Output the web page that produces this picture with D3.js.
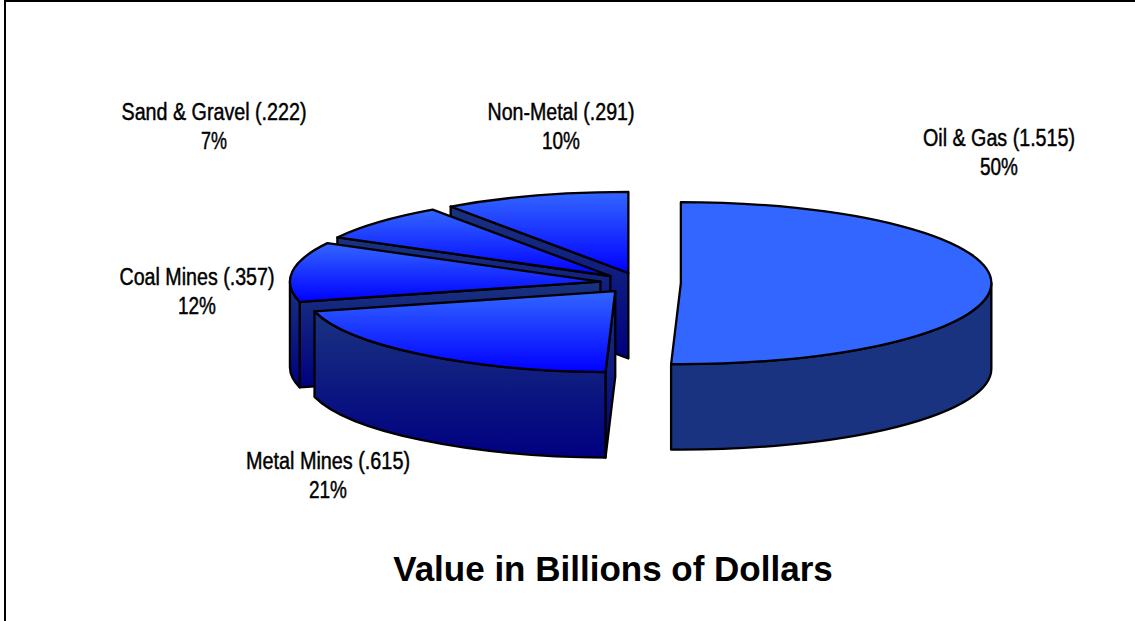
<!DOCTYPE html>
<html>
<head>
<meta charset="utf-8">
<script src="https://cdn.jsdelivr.net/npm/d3@7"></script>
<style>
html, body { margin: 0; padding: 0; background: #fff; }
svg { display: block; }
</style>
</head>
<body>
<script>
// chart data
const categories = ["Oil & Gas", "Metal Mines", "Coal Mines", "Sand & Gravel", "Non-Metal"];
const values = [1.515, 0.615, 0.357, 0.222, 0.291];
const percents = [50, 21, 12, 7, 10];
const title = "Value in Billions of Dollars";

// layout
const width = 1135, height = 621;
const cx = 640.5, cy = 283;
const rx = 310.5, ry = 81, depth = 85.5;
const explode = 0.13;
const labelAnchors = [[999, 146], [328, 469], [197, 285], [214, 120], [561, 120]];
const labelWidth = [152, 164, 155, 185, 147];

const svg = d3.select("body").append("svg")
  .attr("width", width)
  .attr("height", height);

function gradient(id, top, bottom) {
  const g = defs.append("linearGradient").attr("id", id)
    .attr("x1", 0).attr("y1", 0).attr("x2", 0).attr("y2", 1);
  g.append("stop").attr("offset", "0%").attr("stop-color", top);
  g.append("stop").attr("offset", "100%").attr("stop-color", bottom);
}
const defs = svg.append("defs");
gradient("topFace", "#3366ff", "#0000ff");
gradient("sideFace", "#1a3380", "#000080");

// frame, only top and left edges show in the picture
svg.append("path")
  .attr("d", "M5,621V1H1135")
  .attr("fill", "none")
  .attr("stroke", "#000")
  .attr("stroke-width", 2);

const arcs = d3.pie().sort(null).value(d => d)(values);
const arcGen = d3.arc().innerRadius(0).outerRadius(rx);

// point on the rim of a slice whose apex is c, dz lower down
function rim(c, a, dz) {
  return [c[0] + rx * Math.sin(a), c[1] - ry * Math.cos(a) + dz];
}

// back to front
const order = [4, 3, 2, 1, 0];
order.forEach(function(i) {
  const d = arcs[i];
  const mid = (d.startAngle + d.endAngle) / 2;
  const c = [cx + explode * rx * Math.sin(mid), cy - explode * ry * Math.cos(mid)];
  const g = svg.append("g");
  const flat = i === 0;
  const sideFill = flat ? "#1a3380" : "url(#sideFace)";
  const topFill = flat ? "#3366ff" : "url(#topFace)";

  // radial wall on the start edge, faces the viewer on the left half
  if (d.startAngle > Math.PI) {
    const p = rim(c, d.startAngle, 0);
    g.append("path")
      .attr("d", "M" + c + "L" + p + "v" + depth + "L" + c[0] + "," + (c[1] + depth) + "Z")
      .attr("fill", sideFill)
      .attr("stroke", "#000")
      .attr("stroke-width", 2.3)
      .attr("stroke-linejoin", "round");
  }

  // outer wall, only the front half of the ellipse shows
  const a0 = Math.max(d.startAngle, Math.PI / 2);
  const a1 = Math.min(d.endAngle, Math.PI * 1.5);
  if (a1 > a0) {
    const p0 = rim(c, a0, 0), p1 = rim(c, a1, 0), p2 = rim(c, a1, depth), p3 = rim(c, a0, depth);
    g.append("path")
      .attr("d", "M" + p0 + "A" + rx + "," + ry + " 0 0 1 " + p1 + "L" + p2 +
        "A" + rx + "," + ry + " 0 0 0 " + p3 + "Z")
      .attr("fill", sideFill)
      .attr("stroke", "#000")
      .attr("stroke-width", 2.3)
      .attr("stroke-linejoin", "round");
  }

  // top face is a d3.arc squashed into an ellipse
  g.append("path")
    .attr("transform", "translate(" + c + ") scale(1," + (ry / rx) + ")")
    .attr("d", arcGen(d))
    .attr("fill", topFill)
    .attr("stroke", "#000")
    .attr("stroke-width", 2.3)
    .attr("stroke-linejoin", "round")
    .attr("vector-effect", "non-scaling-stroke");
});

// labels
const fmt = d3.format(".3f");
categories.forEach(function(name, i) {
  const lines = [name + " (" + fmt(values[i]).replace(/^0/, "") + ")", percents[i] + "%"];
  lines.forEach(function(line, k) {
    svg.append("text")
      .attr("x", labelAnchors[i][0])
      .attr("y", labelAnchors[i][1] + k * 29)
      .attr("text-anchor", "middle")
      .attr("font-family", "'Liberation Sans', Arial, sans-serif")
      .attr("font-size", 23)
      .attr("fill", "#000")
      .attr("stroke", "#000")
      .attr("stroke-width", 0.45)
      .attr("lengthAdjust", "spacingAndGlyphs")
      .attr("textLength", k === 0 ? labelWidth[i] : (line.length === 3 ? 38 : 26))
      .text(line);
  });
});

svg.append("text")
  .attr("x", 613)
  .attr("y", 581)
  .attr("text-anchor", "middle")
  .attr("font-family", "'Liberation Sans', Arial, sans-serif")
  .attr("font-weight", "bold")
  .attr("font-size", 35)
  .attr("fill", "#000")
  .text(title);
</script>
</body>
</html>
